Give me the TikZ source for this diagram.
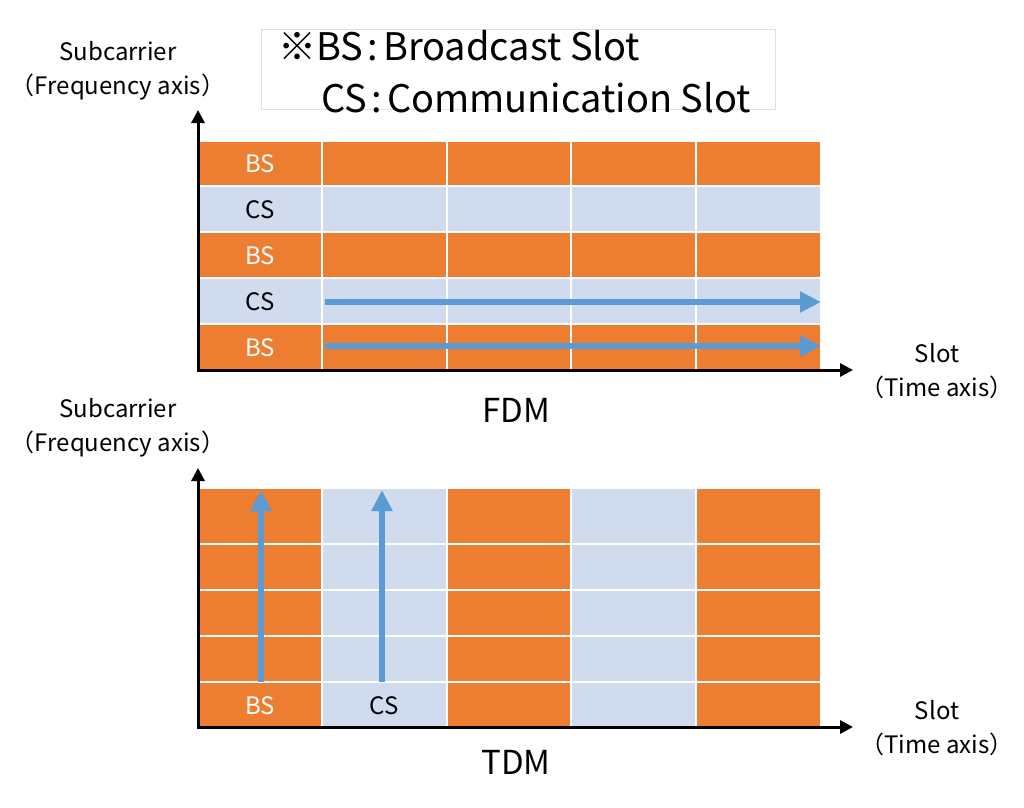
\documentclass[tikz,border=0pt]{standalone}
\usepackage{fontspec}
\setmainfont{Noto Sans CJK JP}
\usetikzlibrary{arrows.meta}
\definecolor{slotorange}{HTML}{ED7D31}
\definecolor{slotblue}{HTML}{D0DCEE}
\definecolor{flowblue}{HTML}{5B9BD5}
\newcommand{\slotcolon}{\makebox[20pt]{:}}
\begin{document}
\begin{tikzpicture}[x=1pt,y=-1pt,
  axis/.style={line width=3pt,{Triangle[length=13pt,width=13pt]}-{Triangle[length=13pt,width=13pt]}},
  flow/.style={flowblue,line width=6pt,-{Triangle[length=21pt,width=20pt]}},
  cell/.style={draw=white,line width=2pt},
  axislabel/.style={font=\fontsize{24}{34}\selectfont,align=center},
  slotlabel/.style={font=\fontsize{24}{28}\selectfont},
  title/.style={font=\fontsize{38}{44}\selectfont},
  mode/.style={font=\fontsize{33}{40}\selectfont}]
\useasboundingbox (0,0) rectangle (1024,807);
\draw[black!12] (261,29) rectangle (775,109);
\node[title,anchor=base west,inner sep=0pt] (legbs) at (278,60) {※BS\slotcolon Broadcast Slot};
\node[title,anchor=base west,inner sep=0pt] (legcs) at (321,112) {CS\slotcolon Communication Slot};
\foreach \ya/\yb/\col in {141/186/slotorange,186/232/slotblue,232/278/slotorange,278/324/slotblue,324/370/slotorange}
  \foreach \xa/\xb in {199/322,322/447,447/571,571/696,696/821}
    \draw[cell,fill=\col] (\xa,\ya) rectangle (\xb,\yb);
\foreach \xa/\xb/\col in {199/322/slotorange,322/447/slotblue,447/571/slotorange,571/696/slotblue,696/821/slotorange}
  \foreach \ya/\yb in {488/544,544/590,590/636,636/682,682/727}
    \draw[cell,fill=\col] (\xa,\ya) rectangle (\xb,\yb);
\node[slotlabel,white] (fbs1) at (260,164) {BS};
\node[slotlabel] (fcs1) at (260,210) {CS};
\node[slotlabel,white] (fbs2) at (260,256) {BS};
\node[slotlabel] (fcs2) at (260,302) {CS};
\node[slotlabel,white] (fbs3) at (260,348) {BS};
\node[slotlabel,white] (tbs) at (260,706) {BS};
\node[slotlabel] (tcs) at (384,706) {CS};
\coordinate (fcsA) at (325,302); \coordinate (fcsB) at (821,302);
\coordinate (fbsA) at (325,346); \coordinate (fbsB) at (821,346);
\coordinate (tbsA) at (261,682); \coordinate (tbsB) at (261,490);
\coordinate (tcsA) at (382,682); \coordinate (tcsB) at (382,490);
\draw[flow] (fcsA) -- (fcsB);
\draw[flow] (fbsA) -- (fbsB);
\draw[flow] (tbsA) -- (tbsB);
\draw[flow] (tcsA) -- (tcsB);
\coordinate (fdmY) at (198,110); \coordinate (fdmO) at (198,370); \coordinate (fdmX) at (853,370);
\coordinate (tdmY) at (198,468); \coordinate (tdmO) at (198,727); \coordinate (tdmX) at (853,727);
\draw[axis] (fdmY) -- (fdmO) -- (fdmX);
\draw[axis] (tdmY) -- (tdmO) -- (tdmX);
\node[axislabel] (fdmsub) at (118,71) {Subcarrier\\（Frequency axis）};
\node[axislabel] (fdmslot) at (937,371) {Slot\\（Time axis）};
\node[axislabel] (tdmsub) at (118,428) {Subcarrier\\（Frequency axis）};
\node[axislabel] (tdmslot) at (937,728) {Slot\\（Time axis）};
\node[mode] (fdm) at (516,410) {FDM};
\node[mode] (tdm) at (516,762) {TDM};
\end{tikzpicture}
\end{document}
